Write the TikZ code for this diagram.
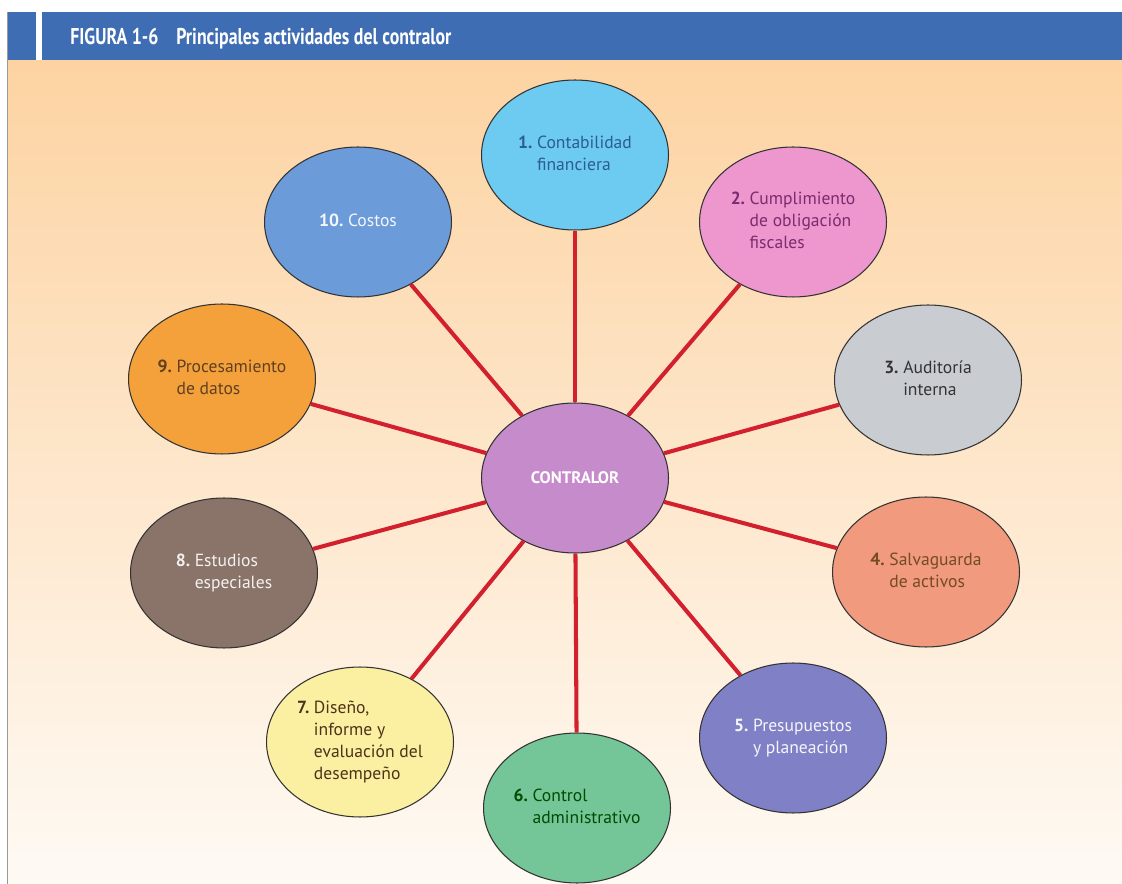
\documentclass[tikz,border=0pt]{standalone}
\usepackage{fontspec}
\setmainfont{PT Sans}
\usetikzlibrary{
    shapes.geometric
}
\definecolor{barblue}{HTML}{3F6DB4}
\definecolor{peachtop}{HTML}{FDD3A2}
\definecolor{peachbot}{HTML}{FEFAF4}
\definecolor{linkred}{HTML}{D2202E}
\definecolor{fillA}{HTML}{6DCAF0}
\definecolor{fillB}{HTML}{EE96CE}
\definecolor{fillC}{HTML}{C9CDD2}
\definecolor{fillD}{HTML}{F19A7E}
\definecolor{fillE}{HTML}{8080C6}
\definecolor{fillF}{HTML}{74C598}
\definecolor{fillG}{HTML}{FBF0A2}
\definecolor{fillH}{HTML}{8A746A}
\definecolor{fillI}{HTML}{F4A13C}
\definecolor{fillJ}{HTML}{6C9BDA}
\definecolor{fillK}{HTML}{C68BCB}
\definecolor{textA}{HTML}{2B5E8E}
\definecolor{textB}{HTML}{7A2C6E}
\newcommand{\acttext}[2]{%
    \begin{tabular}{@{}l@{\ }l@{}}\textbf{#1.}&\begin{tabular}[t]{@{}l@{}}#2\end{tabular}\end{tabular}}

\begin{document}
\begin{tikzpicture} [x=0.02cm,y=-0.02cm,
    act/.style={ellipse,draw=black!80,line width=0.6pt,inner sep=0pt,
        minimum width=3.74cm,minimum height=3cm,
        font=\fontsize{10}{12.5}\selectfont},
    link/.style={draw=linkred,line width=2.3pt}]
    \useasboundingbox (0,0) rectangle (1122,884);
    % background and header
    \shade[top color=peachtop,bottom color=peachbot] (8,60) rectangle (1122,884);
    \draw[black!40,line width=0.6pt] (7.5,12) -- (7.5,884);
    \fill[barblue] (8,12) rectangle (1122,60);
    \fill[white] (36,12) rectangle (42,60);
    \node[anchor=base west,inner sep=0pt,text=white,font=\bfseries\fontsize{13}{13}\selectfont]
        (title) at (70,45) {\scalebox{0.78}[1]{FIGURA 1-6\quad Principales actividades del contralor}};

    \node[act,fill=fillK,text=white,font=\bfseries\fontsize{9.5}{12}\selectfont] (ctr) at (575,478) {CONTRALOR};
    \node[act,fill=fillA,text=textA] (a1) at (575,155) {\acttext{1}{Contabilidad\\financiera}};
    \node[act,fill=fillB,text=textB] (a2) at (793,222) {\acttext{2}{Cumplimiento\\de obligación\\fiscales}};
    \node[act,fill=fillC,text=black!80] (a3) at (928,380) {\acttext{3}{Auditoría\\interna}};
    \node[act,fill=fillD,text=brown!60!black] (a4) at (926,572) {\acttext{4}{Salvaguarda\\de activos}};
    \node[act,fill=fillE,text=white!92!fillE] (a5) at (793,738) {\acttext{5}{Presupuestos\\y planeación}};
    \node[act,fill=fillF,text=green!30!black] (a6) at (577,808) {\acttext{6}{Control\\administrativo}};
    \node[act,fill=fillG,text=brown!40!black] (a7) at (360,742) {\acttext{7}{Diseño,\\informe y\\evaluación del\\desempeño}};
    \node[act,fill=fillH,text=white!90!fillH] (a8) at (224,573) {\acttext{8}{Estudios\\especiales}};
    \node[act,fill=fillI,text=brown!50!black] (a9) at (222,379) {\acttext{9}{Procesamiento\\de datos}};
    \node[act,fill=fillJ,text=white!92!fillJ] (a10) at (358,222) {\acttext{10}{Costos}};

    \foreach \n in {1,...,10}
        \draw[link] (ctr) -- (a\n);
\end{tikzpicture}
\end{document}
